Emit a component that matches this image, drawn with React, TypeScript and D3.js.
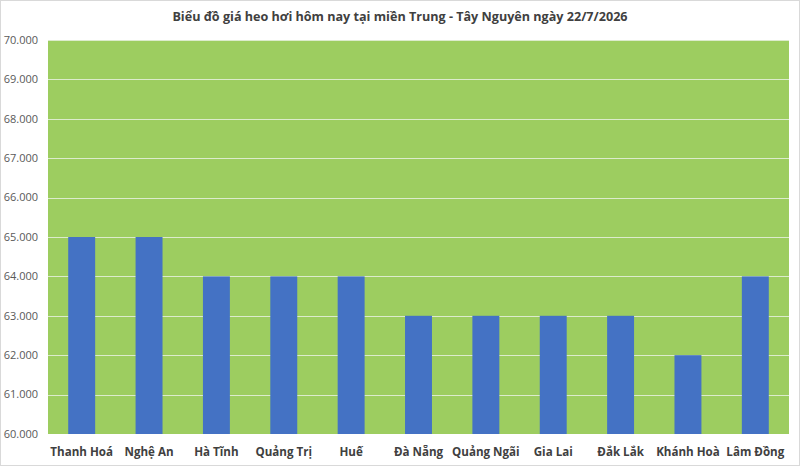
import { useEffect, useRef } from "react";
import { scaleBand, scaleLinear, select } from "d3";

const provinces = ["Thanh Hoá", "Nghệ An", "Hà Tĩnh", "Quảng Trị", "Huế", "Đà Nẵng", "Quảng Ngãi", "Gia Lai", "Đắk Lắk", "Khánh Hoà", "Lâm Đồng"];
const prices = [65000, 65000, 64000, 64000, 64000, 63000, 63000, 63000, 63000, 62000, 64000];
const yTicks = [60000, 61000, 62000, 63000, 64000, 65000, 66000, 67000, 68000, 69000, 70000];

const W = 800;
const H = 466;
const margin = { top: 40, right: 11, bottom: 32, left: 48 };
const font = "'Open Sans', 'Liberation Sans', sans-serif";

const fmt = (v: number) => (v / 1000).toFixed(3);

export default function App() {
  const svgRef = useRef<SVGSVGElement>(null);

  useEffect(() => {
    const svg = select(svgRef.current);
    svg.selectAll("*").remove();

    const x = scaleBand<string>()
      .domain(provinces)
      .range([margin.left, W - margin.right])
      .paddingInner(0.6)
      .paddingOuter(0.3);
    const y = scaleLinear().domain([60000, 70000]).range([H - margin.bottom, margin.top]);

    // chart frame
    svg.append("rect")
      .attr("x", 0.5).attr("y", 0.5)
      .attr("width", W - 1).attr("height", H - 1)
      .attr("fill", "#fff").attr("stroke", "#d9d9d9");

    // plot area
    svg.append("rect")
      .attr("x", margin.left).attr("y", margin.top)
      .attr("width", W - margin.left - margin.right)
      .attr("height", H - margin.top - margin.bottom)
      .attr("fill", "#9dcd60");

    // gridlines
    svg.selectAll(".grid")
      .data(yTicks.slice(1))
      .join("line")
      .attr("class", "grid")
      .attr("x1", margin.left).attr("x2", W - margin.right)
      .attr("y1", d => Math.round(y(d)) + 0.5).attr("y2", d => Math.round(y(d)) + 0.5)
      .attr("stroke", "#dcebcc").attr("stroke-width", 1);

    // bars
    svg.selectAll(".bar")
      .data(prices)
      .join("rect")
      .attr("class", "bar")
      .attr("x", (d, i) => x(provinces[i])!)
      .attr("y", d => y(d))
      .attr("width", x.bandwidth())
      .attr("height", d => y(60000) - y(d))
      .attr("fill", "#4472c4");

    // y labels
    svg.selectAll(".ylab")
      .data(yTicks)
      .join("text")
      .attr("class", "ylab")
      .attr("x", 38)
      .attr("y", d => y(d))
      .attr("dy", "0.35em")
      .attr("text-anchor", "end")
      .attr("font-family", font)
      .attr("font-size", 11)
      .attr("fill", "#595959")
      .text(d => fmt(d));

    // x labels
    svg.selectAll(".xlab")
      .data(provinces)
      .join("text")
      .attr("class", "xlab")
      .attr("x", d => x(d)! + x.bandwidth() / 2)
      .attr("y", 456)
      .attr("text-anchor", "middle")
      .attr("font-family", font)
      .attr("font-size", 11.6)
      .attr("font-weight", "bold")
      .attr("fill", "#404040")
      .text(d => d);

    svg.append("text")
      .attr("x", 400)
      .attr("y", 21)
      .attr("text-anchor", "middle")
      .attr("font-family", font)
      .attr("font-size", 12.6)
      .attr("font-weight", "bold")
      .attr("fill", "#404040")
      .text("Biểu đồ giá heo hơi hôm nay tại miền Trung - Tây Nguyên ngày 22/7/2026");
  }, []);

  return (
    <svg ref={svgRef} width={W} height={H} style={{ position: "absolute", left: 0, top: 0 }} />
  );
}
